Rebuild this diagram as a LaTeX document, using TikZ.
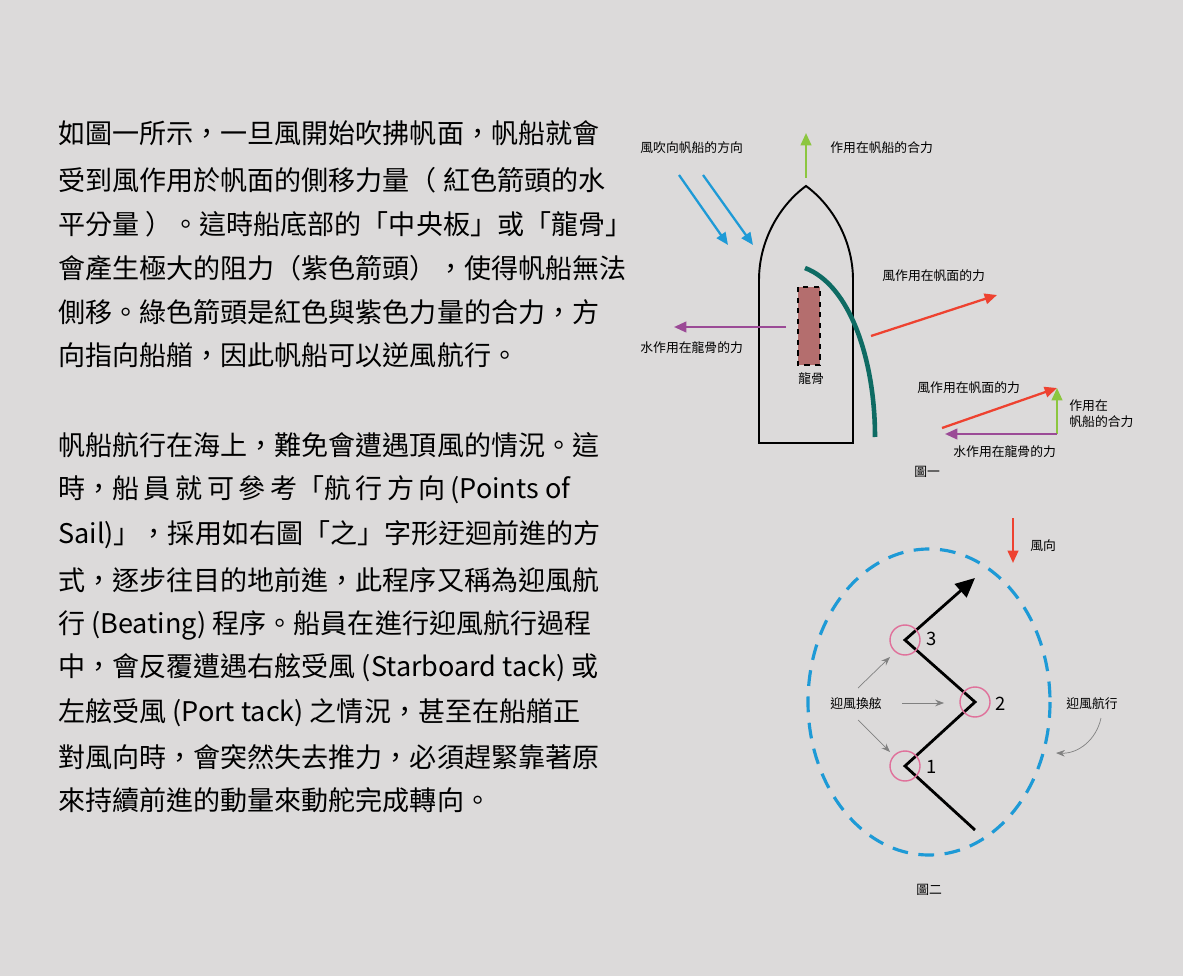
\documentclass[tikz,border=0pt]{standalone}
\usepackage{fontspec}
\setmainfont{Noto Sans CJK TC}
\usepackage{tikz}
\usetikzlibrary{arrows.meta}
\definecolor{bggray}{HTML}{DCDADA}
\definecolor{windblue}{HTML}{1E9AD6}
\definecolor{forcegreen}{HTML}{8CC63F}
\definecolor{forcered}{HTML}{EE4230}
\definecolor{forcepurple}{HTML}{9B4A96}
\definecolor{sailteal}{HTML}{0E6B63}
\definecolor{keelred}{HTML}{B46E6E}
\definecolor{tackpink}{HTML}{E0709A}
\tikzset{
  bodyline/.style={anchor=west, font=\fontsize{15.4}{17}\selectfont},
  lbl/.style={anchor=west, font=\fontsize{7.3}{9}\selectfont, inner sep=0pt},
  force/.style={-{Triangle[length=7pt,width=6pt]}, line width=1.3pt},
}
\begin{document}
\begin{tikzpicture}[x=0.02cm, y=-0.02cm]
            % Background
            \fill [bggray] (0,0) rectangle (1183,976);
            \useasboundingbox (0,0) rectangle (1183,976);

            % Text, first paragraph
            \node [bodyline] (t1) at (52,133) {如圖一所示，一旦風開始吹拂帆面，帆船就會};
            \node [bodyline] (t2) at (52,180) {受到風作用於帆面的側移力量（ 紅色箭頭的水};
            \node [bodyline] (t3) at (52,224) {平分量 ）。這時船底部的「中央板」或「龍骨」};
            \node [bodyline] (t4) at (52,268) {會產生極大的阻力（紫色箭頭），使得帆船無法};
            \node [bodyline] (t5) at (52,312) {側移。綠色箭頭是紅色與紫色力量的合力，方};
            \node [bodyline] (t6) at (52,355) {向指向船艏，因此帆船可以逆風航行。};

            % Text, second paragraph
            \node [bodyline] (u1) at (52,445) {帆船航行在海上，難免會遭遇頂風的情況。這};
            \node [bodyline] (u2) at (52,490) {時，船\,員\,就\,可\,參\,考「航\,行\,方\,向\,(Points of};
            \node [bodyline] (u3) at (52,535) {Sail)」，採用如右圖「之」字形迂迴前進的方};
            \node [bodyline] (u4) at (52,580) {式，逐步往目的地前進，此程序又稱為迎風航};
            \node [bodyline] (u5) at (52,625) {行 (Beating) 程序。船員在進行迎風航行過程};
            \node [bodyline] (u6) at (52,668) {中，會反覆遭遇右舷受風 (Starboard tack) 或};
            \node [bodyline] (u7) at (52,713) {左舷受風 (Port tack) 之情況，甚至在船艏正};
            \node [bodyline] (u8) at (52,757) {對風向時，會突然失去推力，必須趕緊靠著原};
            \node [bodyline] (u9) at (52,800) {來持續前進的動量來動舵完成轉向。};

            % Boat hull
            \draw [line width=1.1pt] (759,443) -- (759,280)
                .. controls (759,240) and (780,205) .. (806,186)
                .. controls (832,205) and (853,240) .. (853,280)
                -- (853,443) -- cycle;

            % Keel and sail
            \draw [fill=keelred, line width=1pt, dashed] (798,287) rectangle (820,365);
            \node [lbl] (keel) at (798,379) {龍骨};
            \draw [sailteal, line width=2.6pt] (805,268)
                .. controls (850,285) and (875,360) .. (875,437);

            % Forces on the boat
            \coordinate (bow) at (806,178);
            \draw [force, forcegreen] (bow) -- (806,133);
            \node [lbl] (resLbl) at (830,148) {作用在帆船的合力};
            \draw [force, windblue] (679,175) -- (728,245);
            \draw [force, windblue] (703,175) -- (753,245);
            \node [lbl] (windLbl) at (640,148) {風吹向帆船的方向};
            \draw [force, forcepurple] (786,327) -- (674,327);
            \node [lbl] (waterLbl) at (640,348) {水作用在龍骨的力};
            \draw [force, forcered] (871,336) -- (997,295);
            \node [lbl] (sailLbl) at (882,276) {風作用在帆面的力};

            % Force triangle
            \coordinate (T) at (1057,434);
            \draw [force, forcered] (942,428) -- (1057,388);
            \draw [force, forcegreen] (T) -- (1057,388);
            \draw [force, forcepurple] (T) -- (945,434);
            \node [lbl] (sail2) at (917,388) {風作用在帆面的力};
            \node [lbl, align=left] (res2) at (1069,414) {作用在\\帆船的合力};
            \node [lbl] (water2) at (953,452) {水作用在龍骨的力};
            \node [lbl] (fig1) at (914,472) {圖一};

            % Wind direction, figure 2
            \draw [force, forcered] (1013,518) -- (1013,563);
            \node [lbl] (windDir) at (1030,546) {風向};

            % Beating zone
            \draw [windblue, line width=1.8pt, dash pattern=on 9pt off 6pt] (929,702) ellipse (121 and 153);

            % Zig-zag course
            \coordinate (p0) at (975,830);
            \coordinate (p1) at (905,766);
            \coordinate (p2) at (975,702);
            \coordinate (p3) at (905,640);
            \coordinate (p4) at (975,578);
            \draw [line width=1.6pt, -{Triangle[length=11pt,width=10pt]}] (p0) -- (p1) -- (p2) -- (p3) -- (p4);
            \foreach \p in {p1,p2,p3}
                \draw [tackpink, line width=0.8pt] (\p) circle (15);
            \node [font=\fontsize{10.5}{12}\selectfont] (n1) at (932,767) {1};
            \node [font=\fontsize{10.5}{12}\selectfont] (n2) at (1001,704) {2};
            \node [font=\fontsize{10.5}{12}\selectfont] (n3) at (932,639) {3};

            % Labels with grey arrows
            \node [lbl] (tack) at (830,704) {迎風換舷};
            \draw [gray, -{Stealth[length=5pt]}] (858,688) -- (890,657);
            \draw [gray, -{Stealth[length=5pt]}] (902,703) -- (944,703);
            \draw [gray, -{Stealth[length=5pt]}] (858,720) -- (890,752);
            \node [lbl] (beat) at (1066,704) {迎風航行};
            \draw [gray, -{Stealth[length=5pt]}] (1101,718) to [bend left=40] (1056,753);
            \node [lbl] (fig2) at (916,890) {圖二};
        \end{tikzpicture}
\end{document}
